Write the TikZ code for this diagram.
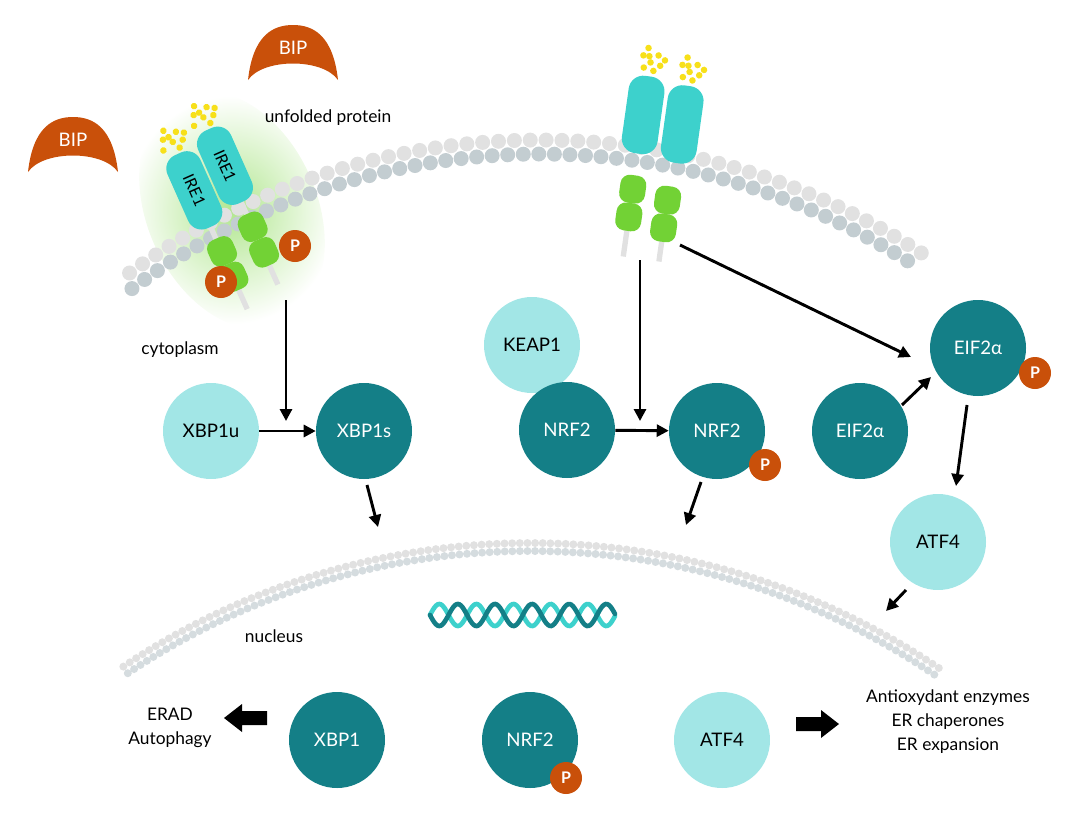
\documentclass[tikz,border=0pt]{standalone}
\usepackage{fontspec}
\setmainfont{Lato}
\usetikzlibrary{arrows.meta}
\definecolor{dk}{HTML}{147F87}
\definecolor{lt}{HTML}{A2E6E6}
\definecolor{tl}{HTML}{3DD1CC}
\definecolor{gr}{HTML}{72D235}
\definecolor{pp}{HTML}{C9500A}
\definecolor{bl}{HTML}{E1E1E1}
\definecolor{bd}{HTML}{C3CDD1}
\definecolor{ye}{HTML}{F7E01A}
\begin{document}
\begin{tikzpicture}[x=0.75pt,y=-0.75pt,
  prot/.style={circle,minimum size=72pt,inner sep=0pt,font=\fontsize{14}{16}\selectfont},
  dkp/.style={prot,fill=dk,text=white},
  ltp/.style={prot,fill=lt,text=black},
  P/.style={circle,fill=pp,text=white,minimum size=24pt,inner sep=0pt,font=\bfseries\fontsize{12}{12}\selectfont},
  arr/.style={line width=2.2pt,-{Triangle[length=9pt,width=9pt]}},
  lbl/.style={font=\fontsize{13}{18}\selectfont,align=center},
  stalk/.style={draw=bl,line width=4pt}]
\useasboundingbox (0,0) rectangle (1081,814);
% glow
\shade[inner color=gr!55,outer color=white,rotate around={24:(232,210)}] (232,210) ellipse (85 and 125);
% ER membrane
\foreach \a in {57.6,58.9,...,127}{
  \fill[bd] ({540+686*cos(\a)},{840-686*sin(\a)}) circle (7.5);}
\foreach \a in {57.0,58.3,...,126.5}{
  \fill[bl] ({540+700*cos(\a)},{840-700*sin(\a)}) circle (7.5);}
% nucleus membrane
\foreach \a in {56,56.6,...,124}{
  \fill[bd!70] ({530+723*cos(\a)},{1274-723*sin(\a)}) circle (4);
  \fill[bl] ({530+731*cos(\a)},{1274-731*sin(\a)}) circle (4);}
% BIP
\foreach \x/\y/\n in {73/172/bip1,293/80/bip2}{
  \fill[pp] (\x-45,\y) .. controls (\x-40,\y-45) and (\x-20,\y-55) .. (\x,\y-55)
    .. controls (\x+20,\y-55) and (\x+40,\y-45) .. (\x+45,\y)
    .. controls (\x+30,\y-22) and (\x-30,\y-22) .. cycle;
  \node[text=white,font=\fontsize{14}{15}\selectfont] (\n) at (\x,\y-32) {BIP};}
% IRE1 receptor
\begin{scope}[shift={(225,215)},rotate=24]
  \draw[stalk] (-18,-35) -- (-18,95); \draw[stalk] (20,-45) -- (20,85);
  \fill[tl,rounded corners=11pt] (-36,-75) rectangle (0,5);
  \fill[tl,rounded corners=11pt] (2,-85) rectangle (38,-5);
  \node[rotate=-66,inner sep=0pt,font=\fontsize{12}{13}\selectfont] (ire1a) at (-18,-35) {IRE1};
  \node[rotate=-66,inner sep=0pt,font=\fontsize{12}{13}\selectfont] (ire1b) at (20,-45) {IRE1};
  \fill[gr,rounded corners=7pt] (-31,18) rectangle +(27,28);
  \fill[gr,rounded corners=7pt] (-31,46) rectangle +(27,28);
  \fill[gr,rounded corners=7pt] (7,8) rectangle +(27,28);
  \fill[gr,rounded corners=7pt] (7,36) rectangle +(27,28);
  \foreach \x/\y in {-18/-88,20/-98}{
    \foreach \dx/\dy in {0/0,-8/-6,7/-8,-4/-14,10/2,14/-4,-12/4,4/8,-2/-6}{
      \fill[ye] (\x+\dx,\y+\dy) circle (3.3);}}
\end{scope}
\node[P] (p1) at (221,282) {P};
\node[P] (p2) at (295,246) {P};
% right receptor
\begin{scope}[shift={(655,160)},rotate=-8]
  \draw[stalk] (-18,20) -- (-18,100); \draw[stalk] (18,25) -- (18,100);
  \fill[tl,rounded corners=11pt] (-36,-82) rectangle (0,-4);
  \fill[tl,rounded corners=11pt] (4,-78) rectangle (40,0);
  \fill[gr,rounded corners=7pt] (-31,18) rectangle +(26,28);
  \fill[gr,rounded corners=7pt] (-31,46) rectangle +(26,28);
  \fill[gr,rounded corners=7pt] (5,24) rectangle +(26,28);
  \fill[gr,rounded corners=7pt] (5,52) rectangle +(26,28);
  \foreach \x/\y in {-18/-96,22/-92}{
    \foreach \dx/\dy in {0/0,-8/-6,7/-8,-4/-14,10/2,14/-4,-6/6,4/8,-2/-6}{
      \fill[ye] (\x+\dx,\y+\dy) circle (3.3);}}
\end{scope}
% DNA
\draw[tl,line width=3.5pt,line cap=round,domain=430:615,samples=120] plot (\x,{615-11*sin((\x-430)*9.7)});
\draw[dk,line width=3.5pt,line cap=round,domain=430:615,samples=120] plot (\x,{615+11*sin((\x-430)*9.7)});
% labels
\node[lbl] (unf) at (328,118) {unfolded protein};
\node[lbl] (cyt) at (180,350) {cytoplasm};
\node[lbl] (nuc) at (274,636) {nucleus};
\node[lbl] (erad) at (170,728) {ERAD\\Autophagy};
\node[lbl] (anti) at (948,722) {Antioxydant enzymes\\ER chaperones\\ER expansion};
% proteins
\node[ltp] (xbp1u) at (211,431) {XBP1u};
\node[dkp] (xbp1s) at (364,431) {XBP1s};
\node[ltp] (keap1) at (532,345) {KEAP1};
\node[dkp] (nrf2a) at (567,430) {NRF2};
\node[dkp] (nrf2b) at (717,431) {NRF2};
\node[P] at (765,465) {P};
\node[dkp] (eif1) at (978,348) {EIF2α};
\node[P] at (1035,373) {P};
\node[dkp] (eif2) at (860,431) {EIF2α};
\node[ltp] (atf4a) at (938,542) {ATF4};
\node[dkp] (xbp1) at (337,740) {XBP1};
\node[dkp] (nrf2c) at (530,740) {NRF2};
\node[P] at (566,778) {P};
\node[ltp] (atf4b) at (722,740) {ATF4};
% arrows
\coordinate (s1) at (286,300); \coordinate (s2) at (640,260); \coordinate (s3) at (680,245);
\coordinate (n1) at (378,527); \coordinate (n2) at (686,525); \coordinate (n3) at (886,611);
\draw[arr] (s1) -- (286,421);
\draw[arr] (xbp1u) -- (xbp1s);
\draw[arr] (s2) -- (640,421);
\draw[arr] (nrf2a) -- (nrf2b);
\draw[arr] (s3) -- (911,357);
\draw[arr] (902,405) -- (931,377);
\draw[arr] (967,405) -- (956,486);
\draw[arr] (367,485) -- (n1);
\draw[arr] (701,482) -- (n2);
\draw[arr] (906,590) -- (n3);
% block arrows
\fill[black] (224,718) -- (242,704) -- (242,711) -- (267,711) -- (267,725) -- (242,725) -- (242,732) -- cycle;
\fill[black] (839,724) -- (821,710) -- (821,717) -- (796,717) -- (796,731) -- (821,731) -- (821,738) -- cycle;
\end{tikzpicture}
\end{document}
